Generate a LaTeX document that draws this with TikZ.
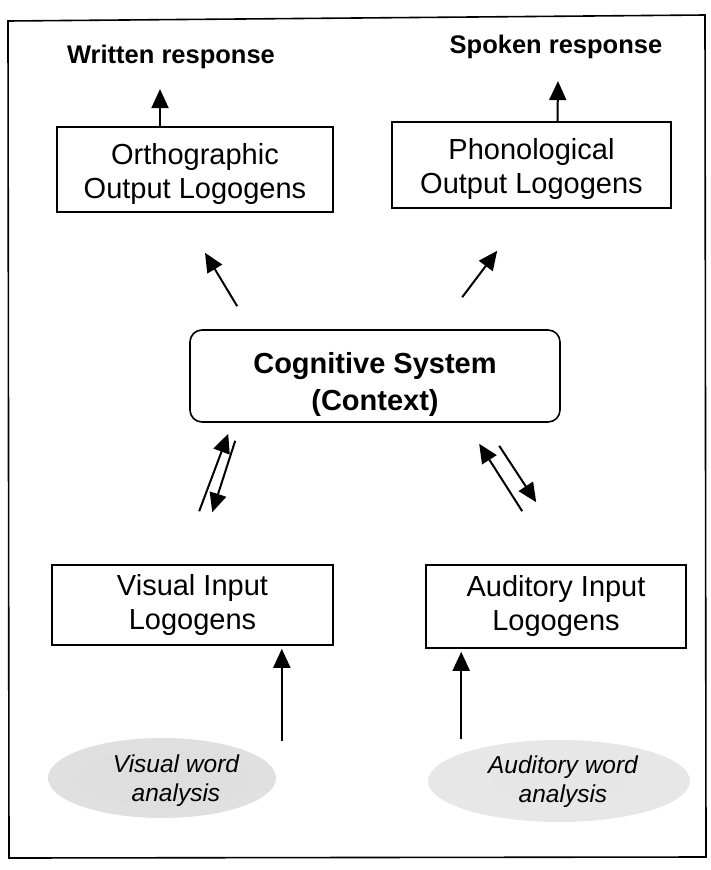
\documentclass[tikz,border=0pt]{standalone}
\usepackage{fontspec}
\setmainfont{Liberation Sans}
\usetikzlibrary{arrows.meta,calc,shapes.geometric}
% two centred lines, moved up or down inside their box without changing its size
\newcommand{\boxtext}[2]{\raisebox{#1}[\height][\depth]{\begin{tabular}{@{}c@{}}#2\end{tabular}}}
% soft grey blobs for the analysis stages
\pgfdeclareradialshading{fuzz}{\pgfpoint{0bp}{0bp}}{%
  color(0bp)=(black!13); color(30bp)=(black!12); color(44bp)=(black!9);
  color(49bp)=(black!4); color(50bp)=(white)}
\pgfdeclareradialshading{fuzzlight}{\pgfpoint{0bp}{0bp}}{%
  color(0bp)=(black!10); color(34bp)=(black!9); color(45bp)=(black!7);
  color(49bp)=(black!3); color(50bp)=(white)}
\begin{document}
\begin{tikzpicture}[x=1pt,y=-1pt,
  box/.style={draw,line width=1.6pt,inner sep=0pt,align=center,
    font=\fontsize{29}{34}\selectfont},
  resp/.style={font=\bfseries\fontsize{25.5}{30}\selectfont,inner sep=0pt},
  analysis/.style={inner sep=0pt,align=center,
    font=\itshape\fontsize{24.5}{29}\selectfont},
  flow/.style={line width=2pt,-{Triangle[length=19pt,width=17pt]}}]
\useasboundingbox (0,0) rectangle (710,870);
% outer frame
\draw[line width=1.6pt] (8,21) -- (705,15) -- (706,857) -- (9,858) -- cycle;

% response labels
\node[resp] (written) at (171,57) {Written response};
\node[resp] (spoken) at (556,47) {Spoken response};

% output logogens
\node[box,minimum width=276pt,minimum height=85pt] (ortho) at (195,169.5)
  {\boxtext{-5pt}{Orthographic\\Output Logogens}};
\node[box,minimum width=279pt,minimum height=86pt] (phono) at (531.5,165)
  {\boxtext{-5pt}{Phonological\\Output Logogens}};

% cognitive system
\node[box,rounded corners=12pt,minimum width=370pt,minimum height=92pt,
  font=\bfseries\fontsize{29}{37}\selectfont] (cog) at (375,376)
  {\boxtext{-9pt}{Cognitive System\\(Context)}};

% input logogens
\node[box,minimum width=281pt,minimum height=80pt] (visin) at (192.5,605)
  {\boxtext{-1pt}{Visual Input\\Logogens}};
\node[box,minimum width=260pt,minimum height=83pt] (audin) at (556,606.5)
  {\boxtext{0pt}{Auditory Input\\Logogens}};

% word analysis
\shade[shading=fuzz] (162,778) ellipse [x radius=114pt,y radius=40pt];
\shade[shading=fuzzlight] (559,781) ellipse [x radius=131pt,y radius=41pt];
\node[analysis] (visan) at (176,781) {Visual word\\analysis};
\node[analysis] (audan) at (563,782) {Auditory word\\analysis};

% responses
\draw[flow] ($(ortho.north)+(-35,0)$) -- ($(written.south)+(-11,20)$);
\draw[flow] ($(phono.north)+(26,0)$) -- ($(spoken.south)+(2,22)$);

% cognitive system to output logogens
\coordinate (oa) at ($(cog.north west)+(48,-23)$);
\coordinate (ob) at ($(ortho.south)+(10,40)$);
\draw[flow] (oa) -- (ob);
\coordinate (pa) at ($(cog.north west)+(273,-32)$);
\coordinate (pb) at ($(phono.south west)+(106,42)$);
\draw[flow] (pa) -- (pb);

% visual input <-> cognitive system
\coordinate (v1) at ($(visin.north west)+(148,-53)$);
\coordinate (v2) at ($(cog.south west)+(39,11)$);
\draw[flow] (v1) -- (v2);
\coordinate (v3) at ($(cog.south west)+(46,18)$);
\coordinate (v4) at ($(visin.north west)+(161,-52)$);
\draw[flow] (v3) -- (v4);

% auditory input <-> cognitive system
\coordinate (a1) at ($(audin.north west)+(97,-53)$);
\coordinate (a2) at ($(cog.south west)+(290,21)$);
\draw[flow] (a1) -- (a2);
\coordinate (a3) at ($(cog.south west)+(310,23)$);
\coordinate (a4) at ($(audin.north west)+(111,-62)$);
\draw[flow] (a3) -- (a4);

% word analysis to input logogens
\draw[flow] ($(visin.south east)+(-52,95)$) -- ($(visin.south east)+(-52,3)$);
\draw[flow] ($(audin.south west)+(36,90)$) -- ($(audin.south west)+(36,3)$);
\end{tikzpicture}
\end{document}
